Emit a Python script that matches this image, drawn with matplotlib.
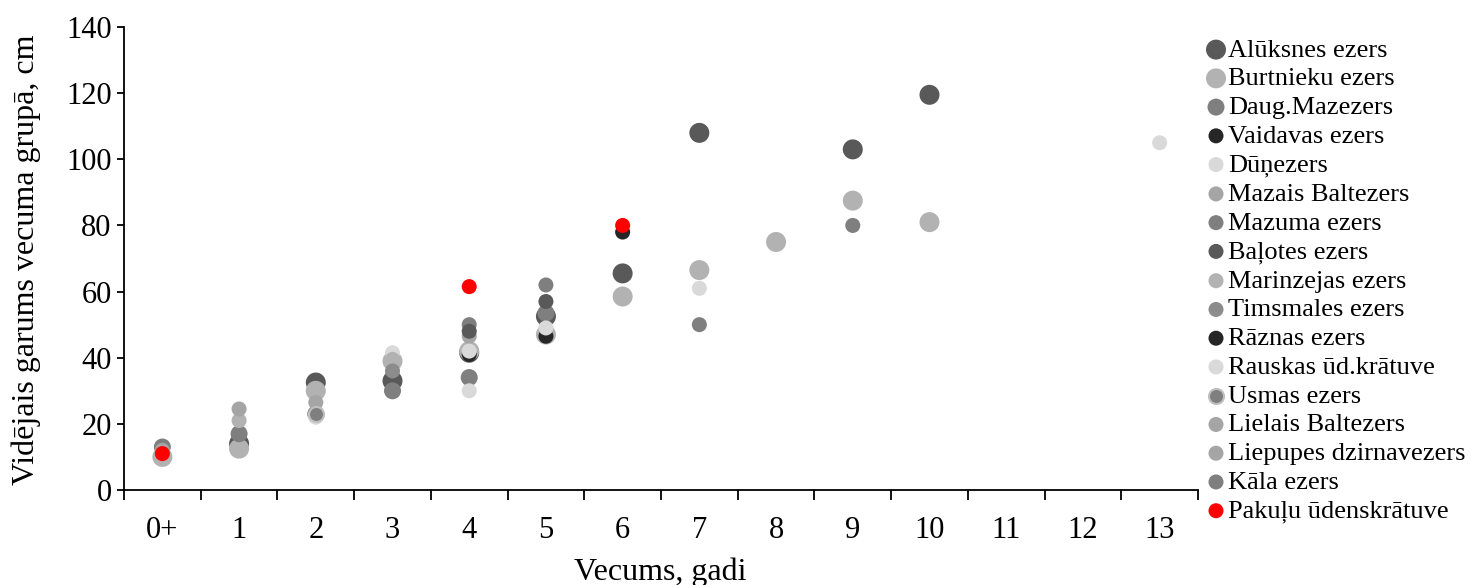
import matplotlib
matplotlib.use('Agg')
import matplotlib.pyplot as plt

plt.rcParams['font.family'] = ['Liberation Serif', 'DejaVu Serif']

ages = ['0+', '1', '2', '3', '4', '5', '6', '7', '8', '9', '10', '11', '12', '13']

N = None
aluksnes   = [N, 14, 32.5, 33, 41.5, 52.5, 65.5, 108, N, 103, 119.5, N, N, N]
burtnieku  = [10, 12.5, 30, 39, 42, 47, 58.5, 66.5, 75, 87.5, 81, N, N, N]
daug       = [13, 17, 23, 30, 34, 53.5, N, N, N, N, N, N, N, N]
vaidavas   = [N, N, N, N, N, 46.5, 78, N, N, N, N, N, N, N]
dunezers   = [N, N, 22, 41.5, 30, 49, N, 61, N, N, N, N, N, N]
mazais     = [N, N, 26.5, N, 46.5, N, N, N, N, N, N, N, N, N]
mazuma     = [N, N, N, N, 50, 62, N, N, N, N, N, N, N, N]
balotes    = [N, N, N, N, 48, 57, N, N, N, N, N, N, N, N]
marinzejas = [N, 21, N, 39.5, N, N, N, N, N, N, N, N, N, N]
timsmales  = [N, N, N, 36, N, N, N, N, N, N, N, N, N, N]
raznas     = [N, N, N, N, 41, N, N, N, N, N, N, N, N, N]
rauskas    = [N, N, N, N, 42, N, N, N, N, N, N, N, N, 105]
usmas      = [N, N, 23, N, N, N, N, N, N, N, N, N, N, N]
lielais    = [N, 24.5, N, N, N, N, N, N, N, N, N, N, N, N]
liepupes   = [12, N, N, N, N, N, N, N, N, N, N, N, N, N]
kala       = [N, N, N, N, N, N, N, 50, N, 80, N, N, N, N]
pakulu     = [11, N, N, N, 61.5, N, 80, N, N, N, N, N, N, N]

series = [
    ('Alūksnes ezers', aluksnes, '#595959', 207),
    ('Burtnieku ezers', burtnieku, '#b2b2b2', 207),
    ('Daug.Mazezers', daug, '#7f7f7f', 150),
    ('Vaidavas ezers', vaidavas, '#262626', 117),
    ('Dūņezers', dunezers, '#d9d9d9', 117),
    ('Mazais Baltezers', mazais, '#a5a5a5', 117),
    ('Mazuma ezers', mazuma, '#7f7f7f', 117),
    ('Baļotes ezers', balotes, '#595959', 117),
    ('Marinzejas ezers', marinzejas, '#b2b2b2', 117),
    ('Timsmales ezers', timsmales, '#8c8c8c', 117),
    ('Rāznas ezers', raznas, '#262626', 117),
    ('Rauskas ūd.krātuve', rauskas, '#d9d9d9', 117),
    ('Usmas ezers', usmas, '#7f7f7f', 117),
    ('Lielais Baltezers', lielais, '#a5a5a5', 117),
    ('Liepupes dzirnavezers', liepupes, '#a5a5a5', 117),
    ('Kāla ezers', kala, '#7f7f7f', 117),
    ('Pakuļu ūdenskrātuve', pakulu, '#ff0000', 117),
]

fig = plt.figure(figsize=(14.71, 5.85), dpi=100)
ax = fig.add_axes([0.0843, 0.1624, 0.7301, 0.7914])

for i, (name, vals, col, size) in enumerate(series):
    xs = [k for k, v in enumerate(vals) if v is not None]
    ys = [v for v in vals if v is not None]
    edge = '#bfbfbf' if name == 'Usmas ezers' else 'none'
    ax.scatter(xs, ys, s=size, c=col, edgecolors=edge, linewidths=1.5,
               label=name, zorder=3 + i)

ax.set_xlim(-0.5, len(ages) - 0.5)
ax.set_ylim(0, 140)
ax.set_yticks(range(0, 141, 20))
ax.set_xticks([k - 0.5 for k in range(len(ages) + 1)])
ax.set_xticklabels([])
ax.set_xticks(range(len(ages)), minor=True)
ax.set_xticklabels(ages, minor=True)
ax.tick_params(axis='x', which='major', direction='out', length=7, width=1.3)
ax.tick_params(axis='x', which='minor', length=0, pad=19, labelsize=22)
ax.tick_params(axis='y', direction='out', length=5, width=1.3, pad=4, labelsize=22)

for side in ['top', 'right']:
    ax.spines[side].set_visible(False)
for side in ['left', 'bottom']:
    ax.spines[side].set_linewidth(1.3)

ax.set_xlabel('Vecums, gadi', fontsize=23)
ax.set_ylabel('Vidējais garums vecuma grupā, cm', fontsize=23)
ax.xaxis.set_label_coords(0.499, -0.145)
ax.yaxis.set_label_coords(-0.077, 0.497)

ax.legend(loc='upper left', bbox_to_anchor=(0.8114, 0.953),
          bbox_transform=fig.transFigure, frameon=False, fontsize=19,
          handletextpad=0.0, labelspacing=0.2, borderaxespad=0, handlelength=0.9,
          scatterpoints=1)

fig.savefig('out.png', dpi=100)
